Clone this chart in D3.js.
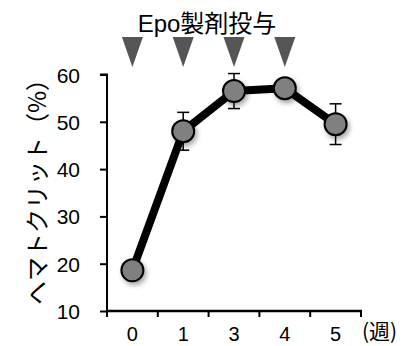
<!DOCTYPE html>
<html>
<head>
<meta charset="utf-8">
<script src="https://cdn.jsdelivr.net/npm/d3@7"></script>
<style>
  body { margin: 0; background: #fff; }
  svg { display: block; }
  text { font-family: "Liberation Sans", Arial, "Noto Sans CJK JP", sans-serif; fill: #000; }
</style>
</head>
<body>
<div id="chart"></div>
<script>
// weeks, hematocrit mean (%) and error
const weeks = ["0", "1", "3", "4", "5"];
const hct = [18.6, 48.0, 56.5, 57.1, 49.5];
const err = [0.8, 4.0, 3.7, 0.6, 4.3];
const dosed = ["0", "1", "3", "4"];
const yTicks = [10, 20, 30, 40, 50, 60];

const width = 420, height = 346;

const svg = d3.select("#chart").append("svg")
    .attr("width", width)
    .attr("height", height);

const defs = svg.append("defs");
const f = defs.append("filter").attr("id", "shadow")
    .attr("x", "-50%").attr("y", "-50%").attr("width", "200%").attr("height", "200%");
f.append("feDropShadow")
    .attr("dx", 2).attr("dy", 3).attr("stdDeviation", 2.5)
    .attr("flood-color", "#000").attr("flood-opacity", 0.35);

const x = d3.scaleBand().domain(weeks).range([107, 361]);
const y = d3.scaleLinear().domain([10, 60]).range([311, 74.5]);

// y axis
const yAxis = svg.append("g")
    .attr("transform", "translate(107,0)")
    .call(d3.axisLeft(y).tickValues(yTicks).tickSize(7).tickPadding(20));
yAxis.select(".domain").attr("stroke-width", 2).attr("d", `M-7,${y(60)}H0V${y(10)}`);
yAxis.selectAll(".tick line").attr("stroke-width", 2);
yAxis.selectAll(".tick text").style("font-size", "21px").attr("dy", "0.36em");

// x axis (ticks at band edges)
const xg = svg.append("g").attr("transform", "translate(0,311)");
xg.append("line").attr("x1", 106).attr("x2", 362).attr("stroke", "#000").attr("stroke-width", 2.5);
const edges = weeks.map(d => x(d)).concat([x(weeks[weeks.length - 1]) + x.bandwidth()]);
xg.selectAll(".edge").data(edges).join("line")
    .attr("x1", d => d).attr("x2", d => d)
    .attr("y1", 0).attr("y2", 6)
    .attr("stroke", "#000").attr("stroke-width", 2);
xg.selectAll(".lab").data(weeks).join("text")
    .attr("x", d => x(d) + x.bandwidth() / 2)
    .attr("y", 30)
    .attr("text-anchor", "middle")
    .style("font-size", "20px")
    .text(d => d);
xg.append("text")
    .attr("x", 362).attr("y", 28)
    .style("font-size", "21px")
    .style("font-family", "'Noto Sans CJK JP', sans-serif")
    .text("(週)");

// y label
svg.append("text")
    .attr("transform", `translate(46,186) rotate(-90)`)
    .attr("text-anchor", "middle")
    .style("font-size", "24px")
    .style("font-family", "'Noto Sans CJK JP', sans-serif")
    .text("ヘマトクリット（%）");

// title
svg.append("text")
    .attr("x", 207).attr("y", 32)
    .attr("text-anchor", "middle")
    .style("font-size", "24px")
    .style("font-family", "'Liberation Sans', 'Noto Sans CJK JP', sans-serif")
    .text("Epo製剤投与");

// dosing triangles
svg.selectAll(".tri").data(dosed).join("path")
    .attr("d", d => {
        const cx = x(d) + x.bandwidth() / 2;
        return `M${cx - 10.5},37L${cx + 10.5},37L${cx},67Z`;
    })
    .attr("fill", "#555");

const pts = weeks.map((w, i) => ({ w, v: hct[i], e: err[i] }));
const cx = d => x(d.w) + x.bandwidth() / 2;

// error bars
const eb = svg.append("g").attr("stroke", "#000").attr("stroke-width", 1.5);
pts.forEach(d => {
    eb.append("line").attr("x1", cx(d)).attr("x2", cx(d)).attr("y1", y(d.v + d.e)).attr("y2", y(d.v - d.e));
    [d.v + d.e, d.v - d.e].forEach(v => {
        eb.append("line").attr("x1", cx(d) - 6).attr("x2", cx(d) + 6).attr("y1", y(v)).attr("y2", y(v));
    });
});

// line
svg.append("path")
    .datum(pts)
    .attr("d", d3.line().x(cx).y(d => y(d.v)))
    .attr("fill", "none")
    .attr("stroke", "#000")
    .attr("stroke-width", 8)
    .attr("stroke-linejoin", "round");

// points
svg.selectAll(".pt").data(pts).join("circle")
    .attr("cx", cx)
    .attr("cy", d => y(d.v))
    .attr("r", 11)
    .attr("fill", "#808080")
    .attr("stroke", "#000")
    .attr("stroke-width", 2)
    .attr("filter", "url(#shadow)");
</script>
</body>
</html>
